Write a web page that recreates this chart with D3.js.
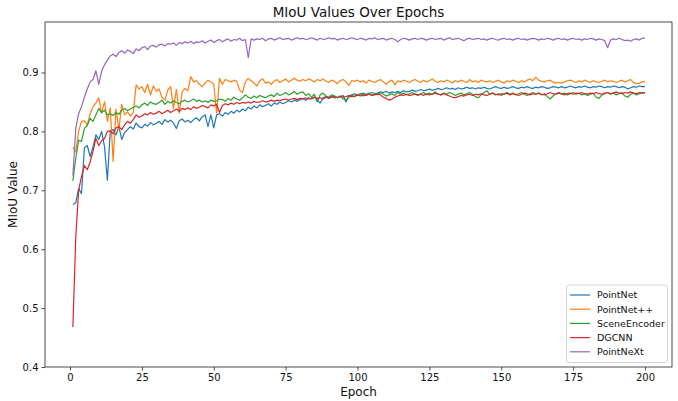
<!DOCTYPE html>
<html><head><meta charset="utf-8">
<script src="https://cdn.jsdelivr.net/npm/d3@7"></script>
<style>body{margin:0;background:#fff}svg{display:block}text{font-family:"DejaVu Sans",sans-serif;fill:#111}</style>
</head><body><svg id="c" width="678" height="401"></svg>
<script>
const seriesNames = ["PointNet","PointNet++","SceneEncoder","DGCNN","PointNeXt"];
const colors = ["#1f77b4","#ff7f0e","#2ca02c","#d62728","#9467bd"];
const xTicks = [0,25,50,75,100,125,150,175,200];
const yTicks = [0.4,0.5,0.6,0.7,0.8,0.9];

const pointNet = [
0.676,0.679,0.703,0.694,0.772,0.776,0.757,0.773,0.794,0.786,
0.800,0.774,0.717,0.800,0.803,0.794,0.808,0.786,0.798,0.803,
0.808,0.804,0.814,0.808,0.806,0.812,0.809,0.815,0.811,0.814,
0.817,0.812,0.820,0.816,0.819,0.814,0.805,0.818,0.821,0.816,
0.819,0.815,0.820,0.823,0.818,0.825,0.828,0.808,0.828,0.806,
0.828,0.830,0.826,0.832,0.829,0.834,0.831,0.836,0.833,0.838,
0.835,0.841,0.838,0.843,0.840,0.845,0.842,0.844,0.847,0.843,
0.848,0.846,0.850,0.847,0.849,0.852,0.850,0.853,0.851,0.854,
0.856,0.853,0.857,0.855,0.858,0.854,0.848,0.857,0.859,0.856,
0.858,0.860,0.857,0.859,0.861,0.850,0.860,0.862,0.864,0.861,
0.863,0.865,0.862,0.864,0.866,0.864,0.865,0.867,0.866,0.868,
0.865,0.867,0.866,0.868,0.866,0.869,0.867,0.868,0.870,0.868,
0.869,0.871,0.869,0.870,0.872,0.870,0.871,0.873,0.871,0.872,
0.874,0.872,0.873,0.871,0.874,0.872,0.873,0.875,0.873,0.874,
0.872,0.874,0.873,0.875,0.873,0.872,0.874,0.876,0.874,0.873,
0.875,0.873,0.874,0.876,0.874,0.873,0.875,0.874,0.876,0.874,
0.873,0.875,0.874,0.876,0.875,0.873,0.874,0.876,0.875,0.874,
0.876,0.874,0.875,0.877,0.875,0.874,0.876,0.875,0.877,0.875,
0.874,0.876,0.875,0.877,0.876,0.874,0.876,0.875,0.877,0.876,
0.874,0.876,0.875,0.872,0.874,0.876,0.875,0.877,0.876,0.876];

const pointNetPP = [
0.773,0.765,0.800,0.817,0.818,0.811,0.830,0.842,0.848,0.857,
0.831,0.850,0.817,0.840,0.749,0.838,0.803,0.846,0.828,0.833,
0.826,0.832,0.879,0.872,0.876,0.866,0.880,0.862,0.877,0.868,
0.872,0.858,0.853,0.870,0.876,0.839,0.871,0.831,0.867,0.873,
0.869,0.893,0.884,0.886,0.880,0.876,0.882,0.887,0.884,0.880,
0.831,0.890,0.880,0.888,0.886,0.884,0.887,0.885,0.870,0.866,
0.884,0.890,0.886,0.882,0.877,0.886,0.889,0.882,0.884,0.880,
0.885,0.888,0.883,0.886,0.889,0.884,0.887,0.890,0.887,0.885,
0.888,0.886,0.889,0.887,0.884,0.888,0.886,0.889,0.885,0.883,
0.887,0.885,0.881,0.886,0.888,0.884,0.878,0.886,0.885,0.887,
0.884,0.886,0.882,0.887,0.885,0.883,0.886,0.888,0.884,0.880,
0.885,0.887,0.879,0.886,0.884,0.887,0.885,0.883,0.886,0.888,
0.885,0.883,0.887,0.884,0.886,0.889,0.885,0.883,0.886,0.884,
0.887,0.885,0.882,0.886,0.884,0.887,0.885,0.883,0.888,0.884,
0.886,0.883,0.887,0.885,0.884,0.886,0.883,0.885,0.887,0.884,
0.882,0.886,0.884,0.887,0.885,0.883,0.886,0.884,0.887,0.889,
0.886,0.892,0.887,0.885,0.884,0.886,0.887,0.884,0.882,0.883,
0.882,0.884,0.886,0.887,0.885,0.883,0.886,0.884,0.887,0.885,
0.883,0.886,0.884,0.883,0.885,0.887,0.884,0.886,0.885,0.883,
0.885,0.887,0.884,0.886,0.888,0.883,0.881,0.882,0.884,0.885];

const sceneEncoder = [
0.716,0.754,0.785,0.783,0.805,0.810,0.822,0.817,0.828,0.839,
0.832,0.836,0.828,0.830,0.827,0.832,0.829,0.836,0.839,0.835,
0.838,0.841,0.843,0.840,0.845,0.848,0.844,0.850,0.847,0.846,
0.849,0.853,0.846,0.851,0.848,0.852,0.849,0.847,0.851,0.853,
0.850,0.852,0.855,0.851,0.853,0.850,0.852,0.849,0.853,0.851,
0.852,0.855,0.854,0.851,0.856,0.853,0.858,0.855,0.853,0.857,
0.862,0.858,0.856,0.860,0.857,0.861,0.859,0.857,0.860,0.862,
0.859,0.865,0.861,0.863,0.866,0.862,0.864,0.868,0.863,0.866,
0.867,0.861,0.864,0.858,0.863,0.850,0.862,0.865,0.860,0.858,
0.862,0.860,0.857,0.859,0.855,0.853,0.858,0.861,0.859,0.862,
0.864,0.860,0.863,0.865,0.861,0.864,0.862,0.866,0.863,0.860,
0.862,0.864,0.861,0.866,0.863,0.865,0.862,0.864,0.866,0.863,
0.861,0.864,0.866,0.862,0.865,0.863,0.867,0.864,0.862,0.865,
0.863,0.866,0.864,0.861,0.863,0.865,0.862,0.864,0.866,0.863,
0.859,0.857,0.862,0.866,0.869,0.863,0.865,0.862,0.864,0.861,
0.864,0.866,0.863,0.865,0.862,0.864,0.866,0.863,0.861,0.864,
0.866,0.863,0.865,0.862,0.864,0.859,0.855,0.860,0.864,0.866,
0.863,0.865,0.862,0.864,0.866,0.863,0.865,0.862,0.864,0.861,
0.863,0.865,0.858,0.856,0.862,0.864,0.866,0.863,0.865,0.862,
0.864,0.866,0.860,0.858,0.863,0.865,0.862,0.864,0.866,0.865];

const dgcnn = [
0.468,0.620,0.700,0.723,0.742,0.735,0.748,0.766,0.788,0.776,
0.784,0.788,0.800,0.801,0.796,0.806,0.808,0.803,0.811,0.817,
0.814,0.820,0.828,0.824,0.826,0.830,0.828,0.832,0.829,0.831,
0.834,0.830,0.833,0.836,0.832,0.835,0.838,0.834,0.839,0.837,
0.840,0.837,0.842,0.839,0.841,0.844,0.842,0.840,0.845,0.843,
0.846,0.832,0.844,0.847,0.845,0.848,0.846,0.849,0.847,0.849,
0.848,0.850,0.848,0.851,0.849,0.850,0.852,0.850,0.851,0.853,
0.851,0.853,0.852,0.854,0.855,0.853,0.855,0.856,0.854,0.856,
0.855,0.857,0.855,0.856,0.858,0.856,0.857,0.855,0.858,0.857,
0.859,0.857,0.858,0.860,0.858,0.859,0.861,0.859,0.860,0.862,
0.860,0.862,0.861,0.863,0.861,0.862,0.864,0.862,0.858,0.856,
0.853,0.855,0.858,0.860,0.862,0.861,0.863,0.861,0.862,0.864,
0.862,0.863,0.861,0.864,0.862,0.863,0.865,0.863,0.862,0.864,
0.862,0.860,0.858,0.857,0.859,0.861,0.860,0.862,0.863,0.861,
0.863,0.862,0.864,0.862,0.861,0.863,0.865,0.863,0.862,0.864,
0.863,0.865,0.862,0.864,0.863,0.861,0.863,0.865,0.864,0.862,
0.864,0.863,0.865,0.863,0.862,0.864,0.866,0.864,0.863,0.865,
0.864,0.862,0.864,0.865,0.863,0.865,0.864,0.866,0.864,0.863,
0.865,0.864,0.866,0.864,0.863,0.865,0.866,0.864,0.865,0.867,
0.865,0.864,0.866,0.865,0.867,0.865,0.864,0.866,0.865,0.866];

const pointNeXt = [
0.725,0.805,0.830,0.842,0.858,0.872,0.884,0.888,0.903,0.880,
0.902,0.913,0.921,0.928,0.931,0.927,0.934,0.937,0.933,0.938,
0.936,0.932,0.940,0.937,0.942,0.944,0.939,0.945,0.946,0.943,
0.947,0.948,0.945,0.949,0.948,0.950,0.946,0.951,0.949,0.952,
0.950,0.953,0.949,0.952,0.951,0.954,0.950,0.953,0.955,0.951,
0.954,0.956,0.952,0.955,0.957,0.953,0.956,0.955,0.958,0.954,
0.956,0.925,0.957,0.955,0.957,0.956,0.958,0.954,0.957,0.958,
0.955,0.957,0.959,0.956,0.957,0.958,0.955,0.957,0.959,0.957,
0.958,0.956,0.957,0.959,0.957,0.955,0.958,0.956,0.957,0.959,
0.957,0.958,0.955,0.957,0.958,0.956,0.957,0.959,0.957,0.956,
0.958,0.957,0.955,0.958,0.957,0.959,0.956,0.957,0.958,0.955,
0.957,0.958,0.956,0.952,0.956,0.958,0.957,0.955,0.957,0.958,
0.956,0.958,0.957,0.955,0.957,0.958,0.956,0.957,0.958,0.955,
0.957,0.959,0.956,0.957,0.958,0.956,0.954,0.957,0.958,0.956,
0.957,0.958,0.956,0.957,0.955,0.957,0.958,0.956,0.955,0.957,
0.958,0.956,0.957,0.955,0.957,0.958,0.956,0.957,0.955,0.957,
0.958,0.957,0.955,0.957,0.956,0.958,0.957,0.955,0.957,0.958,
0.956,0.957,0.955,0.957,0.958,0.956,0.957,0.955,0.957,0.956,
0.958,0.957,0.955,0.957,0.956,0.954,0.942,0.955,0.957,0.956,
0.958,0.956,0.954,0.955,0.953,0.956,0.957,0.955,0.958,0.959];

const allSeries = [pointNet, pointNetPP, sceneEncoder, dgcnn, pointNeXt];

const svg = d3.select("#c");
const L = 45, R = 672, T = 22, B = 367;
// epoch 0 sits at x=70 and epoch 200 at x=645, as in the reference
const x = d3.scaleLinear().domain([(L-70)/2.875, (R-70)/2.875]).range([L, R]);
const y = d3.scaleLinear().domain([0.4, 0.9857]).range([B, T]);

const line = d3.line().x((d,i)=>x(i+1)).y(d=>y(d));
const g = svg.append("g");
g.append("clipPath").attr("id","clip").append("rect").attr("x",L).attr("y",T).attr("width",R-L).attr("height",B-T);
allSeries.forEach((s,k)=>{
  g.append("path").datum(s).attr("d",line).attr("fill","none")
   .attr("stroke",colors[k]).attr("stroke-width",1.2).attr("stroke-linejoin","round")
   .attr("clip-path","url(#clip)");
});

const xAxis = d3.axisBottom(x).tickValues(xTicks).tickSize(3.5).tickPadding(3).tickFormat(d3.format("d"));
const yAxis = d3.axisLeft(y).tickValues(yTicks).tickSize(3.5).tickPadding(3).tickFormat(d3.format(".1f"));
const gx = svg.append("g").attr("transform",`translate(0,${B})`).call(xAxis);
const gy = svg.append("g").attr("transform",`translate(${L},0)`).call(yAxis);
[gx,gy].forEach(a=>{
  a.select(".domain").remove();
  a.selectAll(".tick line").attr("stroke","#222").attr("stroke-width",0.8);
  a.selectAll(".tick text").attr("font-size",10).attr("fill","#111").style("font-family","DejaVu Sans");
});
svg.append("rect").attr("x",L).attr("y",T).attr("width",R-L).attr("height",B-T)
  .attr("fill","none").attr("stroke","#222").attr("stroke-width",0.8);

svg.append("text").attr("x",(L+R)/2).attr("y",17).attr("text-anchor","middle").attr("font-size",13.5).text("MIoU Values Over Epochs");
svg.append("text").attr("x",(L+R)/2).attr("y",396).attr("text-anchor","middle").attr("font-size",12).text("Epoch");
svg.append("text").attr("transform",`translate(17,${(T+B)/2}) rotate(-90)`).attr("text-anchor","middle").attr("font-size",12).text("MIoU Value");

const lg = svg.append("g");
lg.append("rect").attr("x",566.5).attr("y",285).attr("width",101).attr("height",77.5).attr("rx",2.5)
  .attr("fill","#fff").attr("fill-opacity",0.8).attr("stroke","#ccc").attr("stroke-width",0.8);
seriesNames.forEach((n,k)=>{
  const cy = 295 + k*14.2;
  lg.append("line").attr("x1",570).attr("x2",590).attr("y1",cy).attr("y2",cy).attr("stroke",colors[k]).attr("stroke-width",1.2);
  lg.append("text").attr("x",597).attr("y",cy+3.4).attr("font-size",9.5).text(n);
});
</script></body></html>
